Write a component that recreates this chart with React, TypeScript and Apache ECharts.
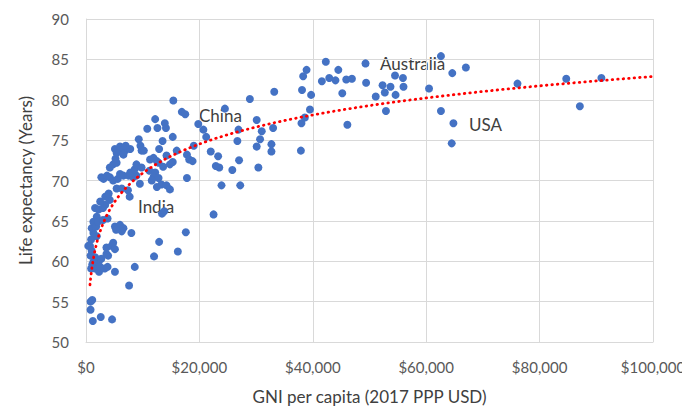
import React, { useEffect, useRef } from "react";
import * as echarts from "echarts";

// GNI per capita (2017 PPP USD), one entry per country
const gniPerCapita = [
  800, 1100, 800, 1200, 2600, 4600, 900, 1100, 1600, 2100, 2300, 2500, 2200, 1300, 1600, 800,
  1000, 400, 700, 900, 1900, 1300, 1000, 1600, 1300, 1800, 1900, 2100, 1600, 2200, 3000,
  3300, 2700, 3600, 3900, 3600, 4500, 4800, 5100, 5100, 3800, 7600, 8600, 5100, 6000, 6600,
  6300, 5300, 8000, 3000, 3800, 3400, 2500, 4200, 3400, 4000, 7400, 7700, 5400, 6300, 9500,
  2700, 3100, 3700, 4200, 4800, 5600, 6000, 6600, 7500, 8300, 8900, 4200, 4800, 5400, 5200,
  7800, 8600, 8900, 5100, 6000, 6900, 7800, 5400, 6600, 6000, 7000, 9800, 9300, 9600, 11300,
  12500, 11200, 9800,
  10800, 12600, 14100, 12200, 13900, 15400, 16900, 17500, 15300, 13500, 10200, 12900, 16000,
  19000, 14200, 17800, 14800, 15300, 13600, 11900, 12800, 12200, 11900, 12800, 11600, 12500,
  13300, 14200, 14800, 13400, 13800, 17600, 12900, 16200, 12000, 18200, 18800, 17800, 19800,
  20700, 21200, 22000, 23300, 22900, 23500, 25800, 27000, 26700, 26900, 24500, 28900, 33200,
  30100, 31000, 30700, 30100, 33000, 32700, 32700, 30400, 23900, 27200, 22500,
  37900, 38000, 38600, 39500, 38100, 39700, 38300, 38900, 41600, 42300, 42900, 44000, 44500,
  45900, 46900, 45200, 46100, 49300, 49400, 51100, 52300, 52700, 52900, 53700, 54500, 54600,
  55900, 56000,
  60500, 62600, 64600, 67000, 62600, 64800, 64500, 76100, 84700, 90900, 87100,
];

// Life expectancy (years), same order as gniPerCapita
const lifeExpectancy = [
  55.0, 55.2, 54.0, 52.6, 53.1, 52.8, 59.1, 59.6, 59.1, 59.0, 58.7, 59.3, 59.9, 59.9, 60.5, 60.7,
  61.3, 61.9, 61.9, 62.7, 63.1, 63.5, 64.1, 64.3, 64.9, 64.3, 65.5, 64.9, 66.6, 66.4, 66.6,
  59.1, 60.3, 60.9, 60.7, 61.7, 61.9, 62.3, 61.5, 58.7, 59.3, 57.0, 59.3, 64.3, 64.5, 64.1,
  63.7, 63.9, 63.5, 65.1, 65.3, 67.0, 67.4, 67.6, 68.0, 68.4, 68.8, 68.0, 69.0, 69.0, 69.6,
  70.4, 70.2, 70.6, 70.4, 70.0, 70.2, 70.8, 70.6, 70.6, 70.4, 70.6, 71.6, 72.0, 72.2, 72.7,
  71.0, 71.4, 72.0, 73.9, 73.9, 73.7, 73.9, 73.4, 73.2, 74.2, 74.3, 73.7, 75.1, 74.3, 72.6,
  72.4, 71.2, 71.6,
  76.4, 76.5, 76.5, 77.6, 77.1, 79.9, 78.5, 78.2, 75.4, 74.9, 73.7, 73.9, 73.7,
  74.3, 73.1, 73.2, 72.0, 72.3, 71.7, 72.8, 72.2, 71.0, 70.4, 70.3, 70.0, 69.2,
  69.5, 69.4, 68.9, 65.9, 66.2, 63.6, 62.4, 61.2, 60.6, 72.6, 72.4, 70.3, 77.0,
  76.3, 75.4, 73.6, 73.0, 71.8, 71.6, 71.3, 72.5, 74.9, 76.3, 78.9, 80.1, 81.0,
  77.5, 76.1, 75.1, 74.2, 76.5, 74.5, 73.6, 71.6, 69.4, 69.4, 65.8,
  73.7, 77.1, 77.8, 78.8, 81.2, 80.6, 82.9, 83.7, 82.3, 84.7, 82.7, 82.4, 83.7,
  82.5, 82.6, 80.8, 76.9, 84.5, 82.1, 80.4, 81.8, 80.9, 78.6, 81.6, 83.0, 80.6,
  82.7, 81.6,
  81.4, 85.4, 83.3, 84.0, 78.6, 77.1, 74.6, 82.0, 82.6, 82.7, 79.2,
];

const xAxisRange = { min: 0, max: 100000, interval: 20000 };
const yAxisRange = { min: 50, max: 90, interval: 5 };

const xAxisTitle = "GNI per capita (2017 PPP USD)";
const yAxisTitle = "Life expectancy (Years)";

const countryLabels = ["Australia", "China", "USA", "India"];

const FONT = "Lato, 'Liberation Sans', Arial, sans-serif";

// Logarithmic least-squares trendline (y = a ln x + b) fitted to the data
function logTrend(xs: number[], ys: number[], from: number, to: number, steps: number) {
  const n = xs.length;
  let sl = 0, sy = 0, sll = 0, sly = 0;
  for (let i = 0; i < n; i++) {
    const l = Math.log(xs[i]);
    sl += l; sy += ys[i]; sll += l * l; sly += l * ys[i];
  }
  const a = (n * sly - sl * sy) / (n * sll - sl * sl);
  const b = (sy - a * sl) / n;
  const pts: number[][] = [];
  for (let i = 0; i <= steps; i++) {
    const x = from * Math.pow(to / from, i / steps);
    pts.push([x, a * Math.log(x) + b]);
  }
  return pts;
}

export default function App() {
  const ref = useRef<HTMLDivElement>(null);

  useEffect(() => {
    if (!ref.current) return;
    const chart = echarts.init(ref.current, undefined, { renderer: "svg" });

    const points = gniPerCapita.map((x, i) => [x, lifeExpectancy[i]]);
    const trend = logTrend(gniPerCapita, lifeExpectancy, 700, xAxisRange.max, 300);

    const labelStyle = { fill: "#404040", font: `17px ${FONT}` };

    chart.setOption({
      animation: false,
      backgroundColor: "#ffffff",
      grid: { left: 86, right: 37, top: 19, bottom: 63 },
      xAxis: {
        type: "value",
        min: xAxisRange.min,
        max: xAxisRange.max,
        interval: xAxisRange.interval,
        name: xAxisTitle,
        nameLocation: "middle",
        nameGap: 46,
        nameTextStyle: { color: "#404040", fontSize: 17, fontFamily: FONT },
        axisLine: { show: true, lineStyle: { color: "#d9d9d9", width: 1 } },
        axisTick: { show: false },
        axisLabel: {
          color: "#595959",
          fontSize: 15,
          fontFamily: FONT,
          margin: 17,
          formatter: (v: number) => "$" + v.toLocaleString("en-US"),
        },
        splitLine: { show: true, lineStyle: { color: "#d9d9d9", width: 1 } },
      },
      yAxis: {
        type: "value",
        min: yAxisRange.min,
        max: yAxisRange.max,
        interval: yAxisRange.interval,
        name: yAxisTitle,
        nameLocation: "middle",
        nameGap: 52,
        nameTextStyle: { color: "#404040", fontSize: 17, fontFamily: FONT },
        axisLine: { show: true, lineStyle: { color: "#d9d9d9", width: 1 } },
        axisTick: { show: false },
        axisLabel: { color: "#595959", fontSize: 15, fontFamily: FONT, margin: 17 },
        splitLine: { show: true, lineStyle: { color: "#d9d9d9", width: 1 } },
      },
      series: [
        {
          type: "scatter",
          data: points,
          symbol: "circle",
          symbolSize: 8,
          itemStyle: { color: "#4472c4", opacity: 1 },
          z: 2,
        },
        {
          type: "line",
          data: trend,
          showSymbol: false,
          symbol: "none",
          lineStyle: { color: "#ff0000", width: 2.8, type: [0.5, 5], cap: "round" },
          z: 3,
        },
      ],
      graphic: [
        { type: "text", left: 380, top: 55, style: { text: countryLabels[0], ...labelStyle } },
        { type: "text", left: 199, top: 107, style: { text: countryLabels[1], ...labelStyle } },
        { type: "text", left: 469, top: 116, style: { text: countryLabels[2], ...labelStyle } },
        { type: "text", left: 138, top: 198, style: { text: countryLabels[3], ...labelStyle } },
      ],
    });

    return () => chart.dispose();
  }, []);

  return <div ref={ref} style={{ width: 690, height: 410, marginLeft: -8, marginTop: -8 }} />;
}
